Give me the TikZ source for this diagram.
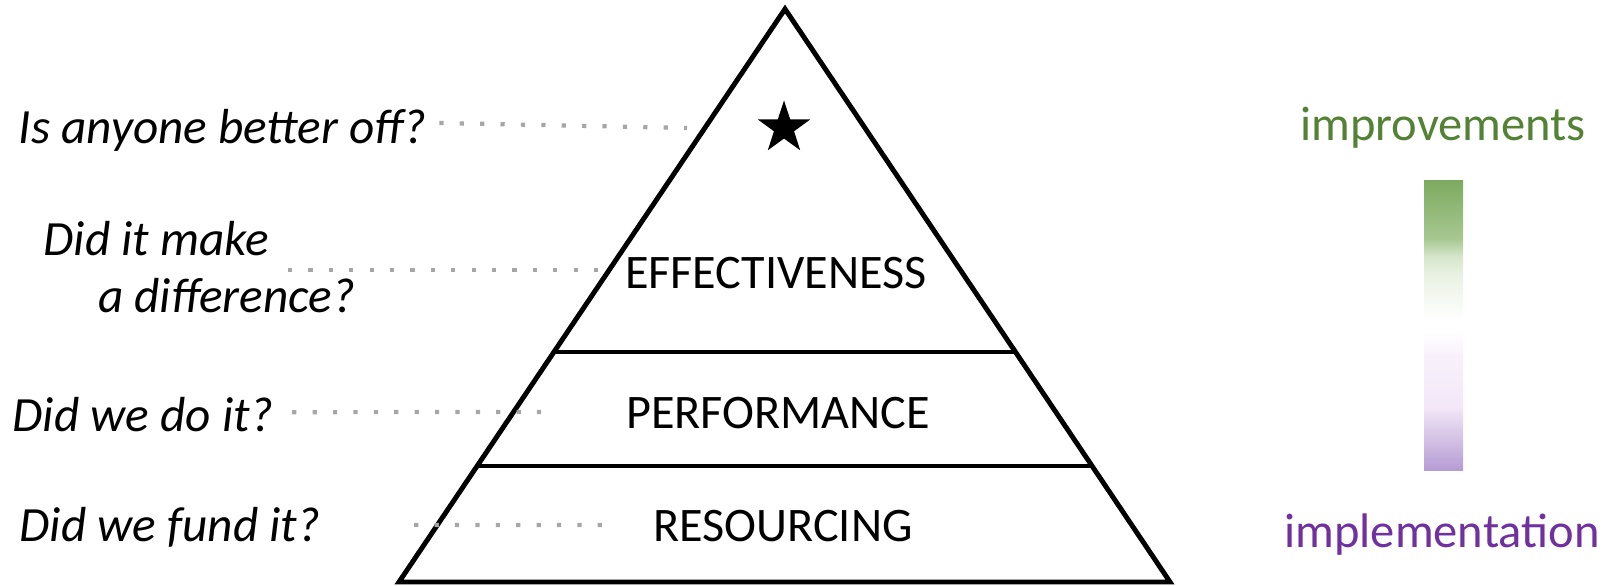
\documentclass[tikz,border=0pt]{standalone}
\usepackage{fontspec}
\setmainfont{Carlito}
\usetikzlibrary{shapes.geometric}
\definecolor{impgreen}{HTML}{548235}
\definecolor{imppurple}{HTML}{7030A0}
\definecolor{dotgray}{HTML}{A6A6A6}
\definecolor{barpurple}{HTML}{B49BD3}
\definecolor{barlilac}{HTML}{F3E7F8}
\definecolor{barpale}{HTML}{F8F1FB}
\definecolor{barmint}{HTML}{E8F1E2}
\definecolor{barsage}{HTML}{D5E6CA}
\definecolor{barleaf}{HTML}{A8C892}
\definecolor{bargreen}{HTML}{7DAA60}
\pgfdeclareverticalshading{barshade}{100bp}{color(0bp)=(barpurple); color(25bp)=(barpurple); color(36bp)=(barlilac); color(45bp)=(barpale); color(49bp)=(white); color(51bp)=(white); color(59bp)=(barmint); color(62bp)=(barsage); color(65bp)=(barleaf); color(75bp)=(bargreen); color(100bp)=(bargreen)}
\begin{document}
\begin{tikzpicture}[x=0.01cm,y=-0.01cm,
	question/.style={font=\fontsize{14}{16.4}\selectfont\itshape, inner sep=0pt, anchor=west},
	level/.style={font=\fontsize{13.7}{16}\selectfont, inner sep=0pt},
	side/.style={font=\fontsize{13.8}{16}\selectfont, inner sep=0pt},
	dotline/.style={dotgray, line width=1.2pt, dash pattern=on 1.2pt off 4.6pt},
	layer/.style={line width=1.4pt}]
	\useasboundingbox (0,0) rectangle (1612,586);
	% pyramid
	\coordinate (apex) at (785,9);
	\coordinate (bl) at (399,582);
	\coordinate (br) at (1170,582);
	\coordinate (al) at (554,352);
	\coordinate (ar) at (1015,352);
	\coordinate (bbl) at (477,466);
	\coordinate (bbr) at (1093,466);
	\draw[layer, line join=miter] (apex)--(br)--(bl)--cycle;
	\draw[layer] (al)--(ar);
	\draw[layer] (bbl)--(bbr);
	\node[star, star points=5, star point ratio=2.6, fill=black, minimum size=0.55cm, inner sep=0pt] (goal) at (784,128) {};
	\node[level] (effect) at (776,273) {EFFECTIVENESS};
	\node[level] (perform) at (778,413) {PERFORMANCE};
	\node[level] (resource) at (783,526) {RESOURCING};
	% questions
	\node[question] (qbetter) at (18,130) {Is anyone better off?};
	\node[question, align=left] (qdiff) at (43,267) {Did it make\\\hspace{15.5pt}a difference?};
	\node[question] (qdo) at (12,415) {Did we do it?};
	\node[question] (qfund) at (19,527) {Did we fund it?};
	\coordinate (ebetter) at (687,128);
	\coordinate (sdiff) at (288,270);
	\coordinate (ediff) at (601,270);
	\coordinate (edo) at (543,412);
	\coordinate (efund) at (612,525);
	\draw[dotline] ([xshift=3.6pt,yshift=2pt]qbetter.east) -- (ebetter);
	\draw[dotline] (sdiff) -- (ediff);
	\draw[dotline] ([xshift=5.3pt,yshift=0.8pt]qdo.east) -- (edo);
	\draw[dotline] ([xshift=26.5pt,yshift=0.6pt]qfund.east) -- (efund);
	% scale bar
	\shade[shading=barshade] (1424,181) rectangle (1463,471);
	\node[side, text=impgreen] (improve) at (1443,128) {improvements};
	\node[side, text=imppurple] (implement) at (1442,535) {implementation};
\end{tikzpicture}
\end{document}
